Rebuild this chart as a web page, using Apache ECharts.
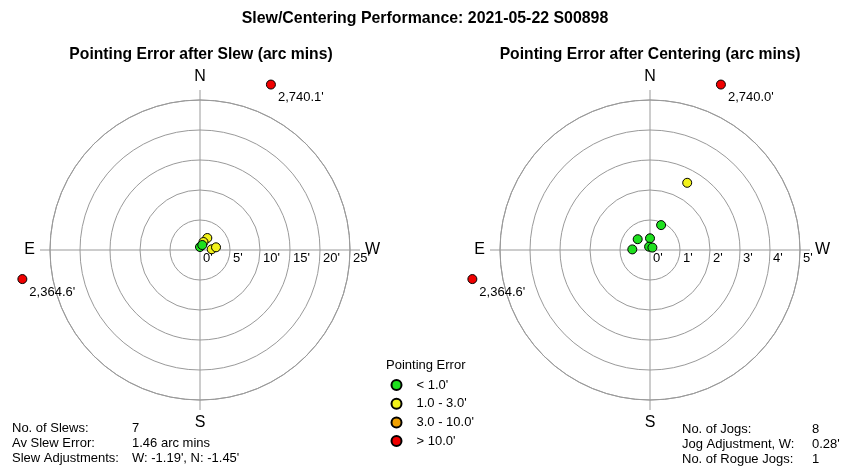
<!DOCTYPE html>
<html>
<head>
<meta charset="utf-8">
<script src="https://cdn.jsdelivr.net/npm/echarts@6/dist/echarts.min.js"></script>
<style>
  html, body { margin: 0; padding: 0; background: #fff; }
  #chart { width: 850px; height: 470px; }
</style>
</head>
<body>
<div id="chart"></div>
<script>
// ---------- data (arc minutes) ----------
const mainTitle = "Slew/Centering Performance: 2021-05-22 S00898";
const slewTitle = "Pointing Error after Slew (arc mins)";
const centerTitle = "Pointing Error after Centering (arc mins)";

// In-range points: offsets towards W (right) and N (up)
const slewW = [1.22, 0.58, 0.00, 0.38, 1.95, 2.67];
const slewN = [2.00, 1.33, 0.50, 0.83, 0.12, 0.45];
// Rogue (off-scale) points: error and direction (deg, counter-clockwise from W)
const slewRogueError = [2740.1, 2364.6];
const slewRogueAngle = [66.8, 189.3];

const centerW = [1.24, 0.37, -0.41, 0.00, -0.59, -0.03, 0.08];
const centerN = [2.24, 0.83, 0.36, 0.39, 0.02, 0.11, 0.08];
const centerRogueError = [2740.0, 2364.6];
const centerRogueAngle = [66.8, 189.3];

const slewRingMax = 25, slewRingStep = 5;
const centerRingMax = 5, centerRingStep = 1;

const directionLabels = { 0: 'W', 90: 'N', 180: 'E', 270: 'S' };

const legendNames = ["< 1.0'", "1.0 - 3.0'", "3.0 - 10.0'", "> 10.0'"];
const legendColors = ['#1ee01e', '#f2f21a', '#f0a000', '#f00000'];
const legendLimits = [1.0, 3.0, 10.0, Infinity];

const slewStatLabels = ['No. of Slews:', 'Av Slew Error:', 'Slew Adjustments:'];
const slewStatValues = ['7', '1.46 arc mins', "W: -1.19', N: -1.45'"];
const jogStatLabels = ['No. of Jogs:', 'Jog Adjustment, W:', 'No. of Rogue Jogs:'];
const jogStatValues = ['8', "0.28'", '1'];

// ---------- build ----------
const FONT = 'Liberation Sans, Arial, sans-serif';
const GRID = '#9a9a9a';

function fmtErr(v) {
  return v.toLocaleString('en-US', { minimumFractionDigits: 1, maximumFractionDigits: 1 }) + "'";
}

function categoryOf(r) {
  for (let i = 0; i < legendLimits.length; i++) if (r < legendLimits[i]) return i;
  return legendLimits.length - 1;
}

function buildSeries(polarIndex, W, N, rogueErr, rogueAng, ringMax) {
  const buckets = legendNames.map(() => []);
  W.forEach((w, i) => {
    const n = N[i];
    const r = Math.hypot(w, n);
    const a = (Math.atan2(n, w) * 180 / Math.PI + 360) % 360;
    buckets[categoryOf(r)].push({ value: [r, a] });
  });
  rogueErr.forEach((e, i) => {
    buckets[categoryOf(e)].push({
      value: [Math.min(e, ringMax * 1.2), rogueAng[i]],
      err: e,
      label: {
        show: true, position: 'right', distance: 2, offset: [0, 13],
        formatter: fmtErr(e), color: '#000', fontSize: 13, fontFamily: FONT
      }
    });
  });
  // draw red first, green on top
  const order = [3, 2, 1, 0];
  return order.map(ci => ({
    name: legendNames[ci],
    type: 'scatter',
    coordinateSystem: 'polar',
    polarIndex: polarIndex,
    clip: false,
    symbol: 'circle',
    symbolSize: 9,
    z: 5 + (3 - ci),
    itemStyle: { color: legendColors[ci], borderColor: '#000', borderWidth: 1, opacity: 1 },
    emphasis: { disabled: true },
    data: buckets[ci]
  }));
}

function angleAxis(polarIndex) {
  return {
    polarIndex: polarIndex,
    type: 'value', min: 0, max: 360, interval: 90,
    startAngle: 0, clockwise: false,
    axisLine: { show: true, lineStyle: { color: GRID, width: 1 } },
    axisTick: { show: true, inside: false, length: 10, lineStyle: { color: GRID } },
    splitLine: { show: true, lineStyle: { color: GRID, width: 1 } },
    axisLabel: {
      margin: 15, fontSize: 16, color: '#000', fontFamily: FONT,
      formatter: v => directionLabels[v] || ''
    }
  };
}

function radiusAxis(polarIndex, max, step) {
  return {
    polarIndex: polarIndex,
    type: 'value', min: 0, max: max, interval: step,
    axisLine: { show: false },
    axisTick: { show: false },
    splitLine: { show: true, lineStyle: { color: GRID, width: 1 } },
    axisLabel: {
      show: true, fontSize: 13, color: '#000', fontFamily: FONT,
      align: 'left', verticalAlign: 'top', margin: 2,
      padding: [4, 0, 0, 3],
      formatter: v => v + "'"
    }
  };
}

function statText(x, ys, texts) {
  return texts.map((t, i) => ({
    type: 'text', x: x, y: ys[i],
    style: { text: t, fontSize: 13, fontFamily: FONT, fill: '#000', verticalAlign: 'middle', align: 'left' }
  }));
}

const option = {
  backgroundColor: '#fff',
  animation: false,
  title: [
    { text: mainTitle, left: 425, textAlign: 'center', top: 11, padding: 0,
      textStyle: { fontSize: 15.9, fontWeight: 'bold', color: '#000', fontFamily: FONT } },
    { text: slewTitle, left: 201, textAlign: 'center', top: 47, padding: 0,
      textStyle: { fontSize: 15.7, fontWeight: 'bold', color: '#000', fontFamily: FONT } },
    { text: centerTitle, left: 650, textAlign: 'center', top: 47, padding: 0,
      textStyle: { fontSize: 15.7, fontWeight: 'bold', color: '#000', fontFamily: FONT } },
    { text: 'Pointing Error', left: 386, top: 359, padding: 0,
      textStyle: { fontSize: 13, fontWeight: 'normal', color: '#000', fontFamily: FONT } }
  ],
  legend: {
    data: legendNames,
    orient: 'vertical',
    left: 390.5, top: 378.5, padding: 0,
    itemWidth: 30, itemHeight: 10, itemGap: 5.7,
    symbolKeepAspect: true,
    selectedMode: false,
    textStyle: { fontSize: 13, color: '#000', fontFamily: FONT }
  },
  polar: [
    { center: [200, 250], radius: 150 },
    { center: [650, 250], radius: 150 }
  ],
  angleAxis: [angleAxis(0), angleAxis(1)],
  radiusAxis: [radiusAxis(0, slewRingMax, slewRingStep), radiusAxis(1, centerRingMax, centerRingStep)],
  series: [
    ...buildSeries(0, slewW, slewN, slewRogueError, slewRogueAngle, slewRingMax),
    ...buildSeries(1, centerW, centerN, centerRogueError, centerRogueAngle, centerRingMax)
  ],
  graphic: [
    ...statText(12, [428.5, 443.5, 458.5], slewStatLabels),
    ...statText(132, [428.5, 443.5, 458.5], slewStatValues),
    ...statText(682, [429.5, 444.5, 459.5], jogStatLabels),
    ...statText(812, [429.5, 444.5, 459.5], jogStatValues)
  ]
};

const chart = echarts.init(document.getElementById('chart'), null, { renderer: 'canvas' });
chart.setOption(option);
</script>
</body>
</html>
